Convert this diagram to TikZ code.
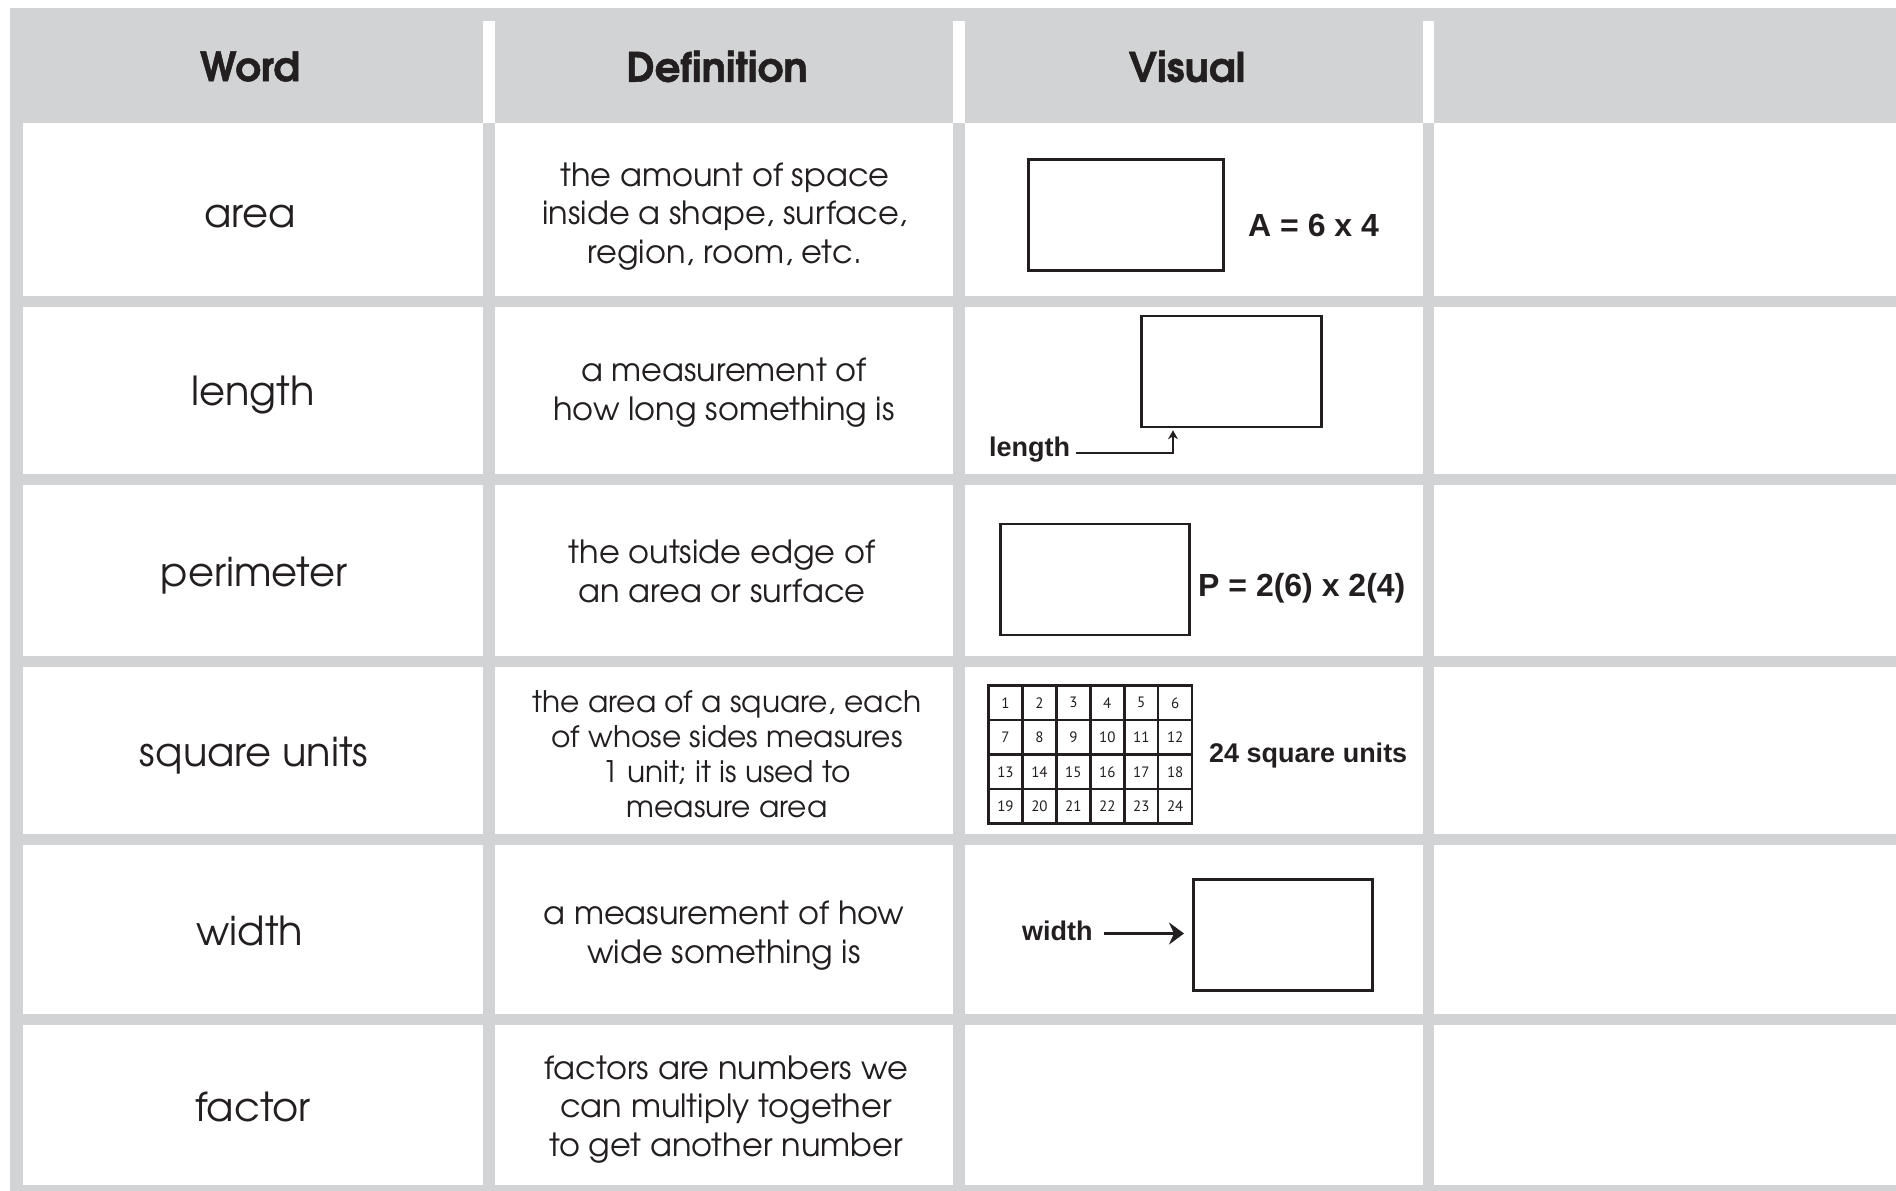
\documentclass[tikz,border=0pt]{standalone}
\usepackage{fontspec}
\setmainfont{texgyreadventor}[Extension=.otf,UprightFont=*-regular,BoldFont=*-bold,BoldFeatures={FakeBold=1.2}]
\newfontfamily\arialfont{Liberation Sans}
\newfontfamily\numfont{PT Sans}
\usetikzlibrary{arrows.meta}
\definecolor{gridgray}{RGB}{209,211,212}
\definecolor{ink}{RGB}{35,31,32}
\begin{document}
\begin{tikzpicture}[x=1pt,y=-1pt,
  wordtxt/.style={font=\fontsize{40}{48}\selectfont, text=ink, inner sep=0pt, anchor=base},
  deftxt/.style={font=\fontsize{32}{38.7}\selectfont, text=ink, align=center, inner sep=0pt},
  headtxt/.style={font=\bfseries\fontsize{40.5}{48}\selectfont, text=ink, inner sep=0pt},
  lbl/.style={font=\arialfont\bfseries\fontsize{27}{32}\selectfont, text=ink, inner sep=0pt, anchor=base west},
  biglbl/.style={font=\arialfont\bfseries\fontsize{32}{36}\selectfont, text=ink, inner sep=0pt, anchor=base west},
  shapebox/.style={draw=ink, line width=2.6pt, fill=white, inner sep=0pt, anchor=north west},
  numcell/.style={draw=ink, line width=2.4pt, inner sep=0pt, minimum width=33.95pt, minimum height=34.5pt, anchor=north west, font=\numfont\fontsize{15}{18}\selectfont, text=ink},
  widtharrow/.style={draw=ink, line width=2.6pt, -{Stealth[length=15pt,width=22pt,inset=5pt]}},
  lenarrow/.style={draw=ink, line width=1.5pt, -{Stealth[length=9pt,width=10pt,inset=3pt]}}
]
\useasboundingbox (0,0) rectangle (1896,1191);
\fill[white] (0,0) rectangle (1896,1191);
% grey frame
\fill[gridgray] (9.5,7.5) rectangle (1896,1191);
% header white separators
\foreach \xa/\xb in {483/495, 953/965, 1423/1434}
  \fill[white] (\xa,21) rectangle (\xb,123);
% body white cells
\foreach \xa/\xb in {22.7/483, 495/953, 965/1423, 1434/1896}
  \foreach \ya/\yb in {123/296, 306.7/474, 485/656, 666.7/834, 845/1014, 1025/1185}
    \fill[white] (\xa,\ya) rectangle (\xb,\yb);

% headers
\node[headtxt] (h1) at (250,66.5) {Word};
\node[headtxt] (h2) at (717,66.5) {Definition};
\node[headtxt] (h3) at (1187,66.5) {Visual};

% words
\node[wordtxt] (w1) at (250,227.5) {area};
\node[wordtxt] (w2) at (253,405) {length};
\node[wordtxt] (w3) at (254,586) {perimeter};
\node[wordtxt] (w4) at (254,766) {square units};
\node[wordtxt] (w5) at (250,945) {width};
\node[wordtxt] (w6) at (253,1121) {factor};

% definitions
\node[deftxt] (d1) at (725,216.5) {the amount of space\\inside a shape, surface,\\region, room, etc.};
\node[deftxt] (d2) at (724,392.5) {a measurement of\\how long something is};
\node[deftxt] (d3) at (722,571.5) {the outside edge of\\an area or surface};
\node[deftxt, font=\fontsize{29.7}{35}\selectfont] (d4) at (727,754) {the area of a square, each\\of whose sides measures\\1 unit; it is used to\\measure area};
\node[deftxt] (d5) at (724,935.5) {a measurement of how\\wide something is};
\node[deftxt] (d6) at (726,1109.5) {factors are numbers we\\can multiply together\\to get another number};

% visual: area
\node[shapebox, minimum width=195pt, minimum height=111pt] (r1) at (1027,158) {};
\node[biglbl] (a1) at (1248,236) {A = 6 x 4};

% visual: length
\node[shapebox, minimum width=180pt, minimum height=111pt] (r2) at (1140,314.7) {};
\node[lbl] (l2) at (989,456.7) {length};
\coordinate (lenstart) at (1076,453);
\coordinate (lenbend) at (1173,453);
\draw[lenarrow, shorten >=2pt] (lenstart) -- (lenbend) -- (lenbend |- r2.south);

% visual: perimeter
\node[shapebox, minimum width=189pt, minimum height=111pt] (r3) at (999,522.7) {};
\node[biglbl] (p3) at (1198,596) {P = 2(6) x 2(4)};

% visual: square units grid
\foreach \j in {0,...,3}
  \foreach \i in {0,...,5} {
    \pgfmathtruncatemacro{\n}{\j*6+\i+1}
    \node[numcell] (g\n) at ({987.3+\i*33.95},{684.3+\j*34.5}) {\n};
  }
\node[lbl] (s4) at (1209,762.7) {24 square units};

% visual: width
\node[shapebox, minimum width=179pt, minimum height=111pt] (r5) at (1192,878) {};
\node[lbl] (l5) at (1022,940.5) {width};
\coordinate (wstart) at (1104,933.5);
\draw[widtharrow, shorten >=8pt] (wstart) -- (wstart -| r5.west);
\end{tikzpicture}
\end{document}
